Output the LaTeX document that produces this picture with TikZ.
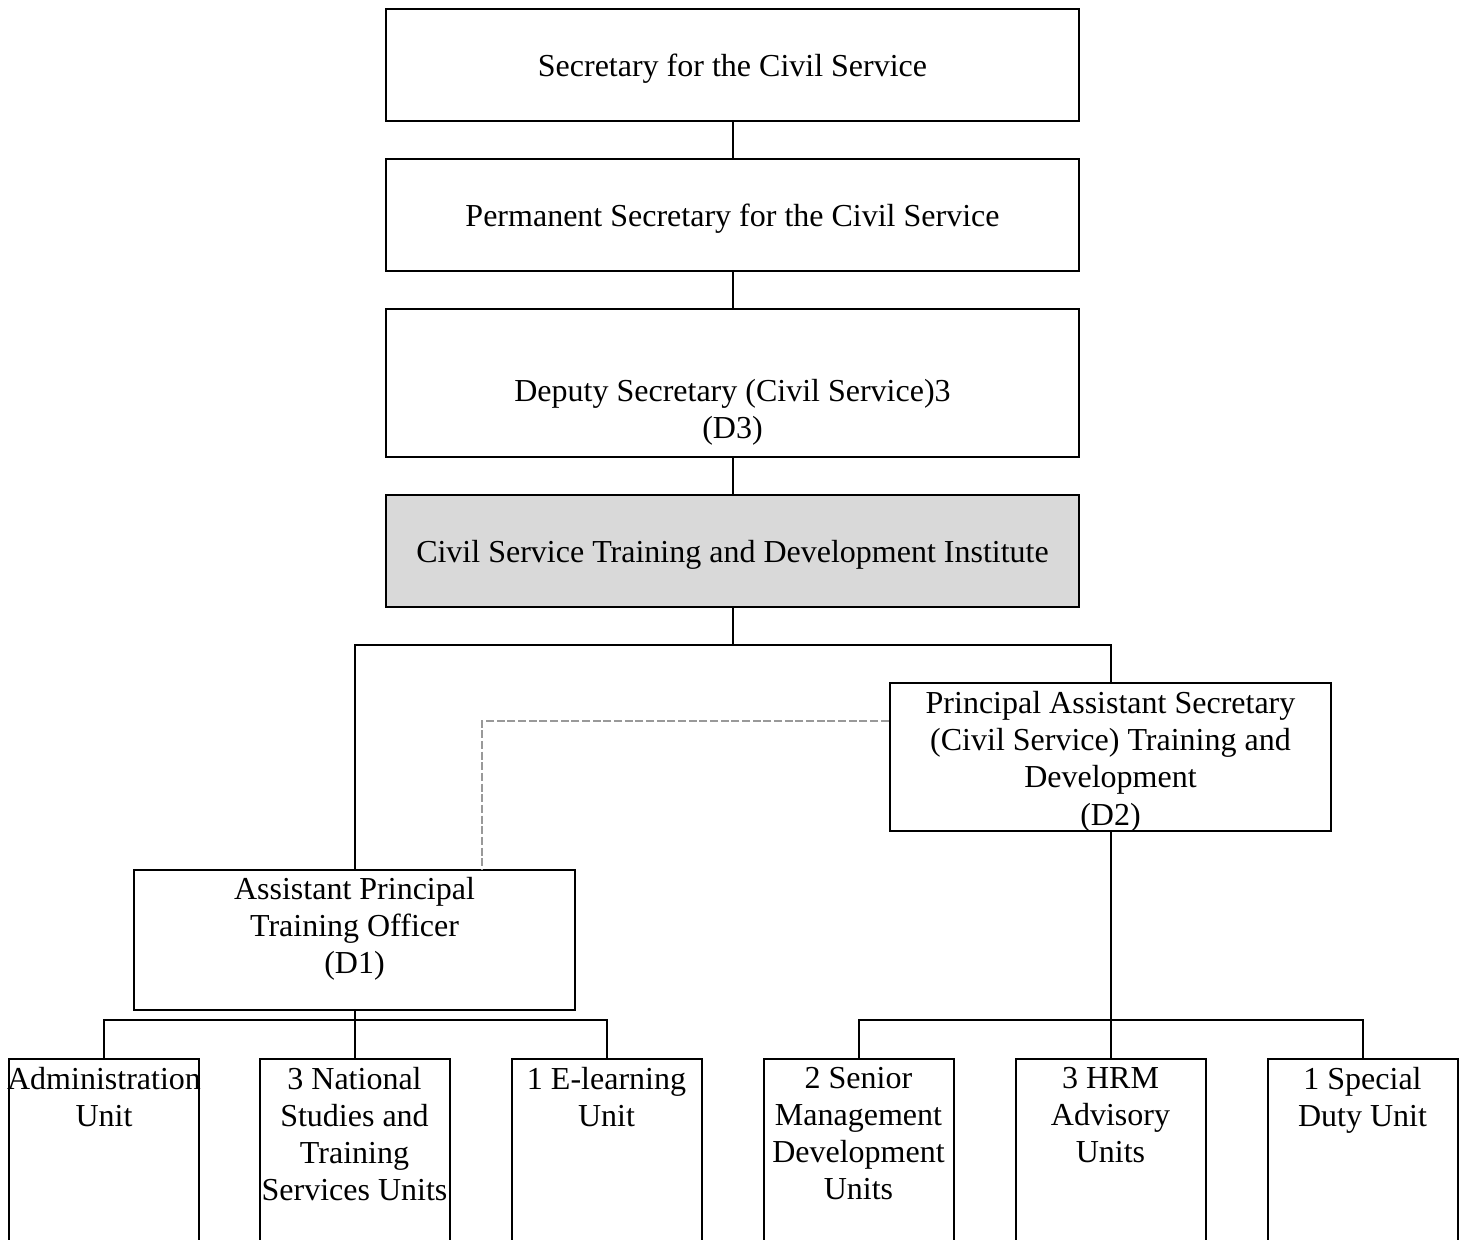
\documentclass[tikz,border=0pt]{standalone}
\usepackage{fontspec}
\setmainfont{Liberation Serif}

% texto de las unidades, alineado arriba
\newcommand{\unittxt}[1]{\parbox[t][72pt][t]{71pt}{\centering #1}}

\begin{document}
\begin{tikzpicture}[x=0.375pt, y=-0.375pt,
    every node/.style={font=\fontsize{12}{13.9}\selectfont},
    post/.style={draw, line width=0.75pt, align=center, inner sep=0pt,
                 minimum width=259.9pt, minimum height=42pt,
                 text height=9pt, text depth=0.5pt},
    office/.style={draw, line width=0.75pt, align=center, inner sep=0pt,
                 minimum width=165.6pt, minimum height=55.5pt},
    unit/.style={draw, line width=0.75pt, anchor=north, inner xsep=0pt,
                 inner ysep=3pt, minimum width=71.25pt},
    link/.style={line width=0.75pt},
    dotlink/.style={gray!80, line width=0.45pt, dash pattern=on 3pt off 1pt}]

    % Marco del dibujo (las unidades quedan cortadas abajo)
    \useasboundingbox (0,0) rectangle (1462,1239);
    \clip (0,0) rectangle (1462,1239);

    % Cadena de mando superior
    \node[post] (scs) at (732.5,65) {Secretary for the Civil Service};
    \node[post] (pscs) at (732.5,215) {Permanent Secretary for the Civil Service};
    \node[post, minimum height=55.5pt, text height=44.4pt, text depth=2.6pt] (ds3) at (732.5,383)
        {Deputy Secretary (Civil Service)3\\(D3)};
    \node[post, fill=gray!30] (cstdi) at (732.5,551)
        {Civil Service Training and Development Institute};

    % Jefaturas D2 y D1
    \node[office, text height=51pt, text depth=0pt] (pas) at (1110.5,757)
        {Principal Assistant Secretary\\(Civil Service) Training and\\Development\\(D2)};
    \node[office, minimum height=52.5pt, text depth=10.7pt] (apto) at (354.5,940)
        {Assistant Principal\\Training Officer\\(D1)};

    % Unidades
    \node[unit] (adm) at (104,1058) {\unittxt{\makebox[71pt]{Administration}\\Unit}};
    \node[unit] (nsts) at (354.5,1058) {\unittxt{3 National\\Studies and\\Training\\Services Units}};
    \node[unit] (elu) at (606.5,1058) {\unittxt{1 E-learning\\Unit}};
    \node[unit] (smd) at (858.5,1058) {\unittxt{2 Senior\\Management\\Development\\Units}};
    \node[unit] (hrm) at (1110.5,1058) {\unittxt{3 HRM\\Advisory\\Units}};
    \node[unit] (sdu) at (1362.5,1058) {\unittxt{1 Special\\Duty Unit}};

    % Puntos de reparto
    \coordinate (split) at (732.5,645);
    \coordinate (lsplit) at (354.5,1020);
    \coordinate (rsplit) at (1110.5,1020);
    \coordinate (dashturn) at (482,721);

    % Conexiones
    \draw[link] (scs) -- (pscs);
    \draw[link] (pscs) -- (ds3);
    \draw[link] (ds3) -- (cstdi);
    \draw[link] (cstdi) -- (split);
    \draw[link] (apto) |- (split) -| (pas);
    \draw[link] (apto) -- (nsts);
    \draw[link] (adm) |- (lsplit) -| (elu);
    \draw[link] (pas) -- (hrm);
    \draw[link] (smd) |- (rsplit) -| (sdu);

    % Línea discontinua entre D2 y D1
    \draw[dotlink] (pas.west |- dashturn) -- (dashturn) -- (dashturn |- apto.north);
\end{tikzpicture}
\end{document}
